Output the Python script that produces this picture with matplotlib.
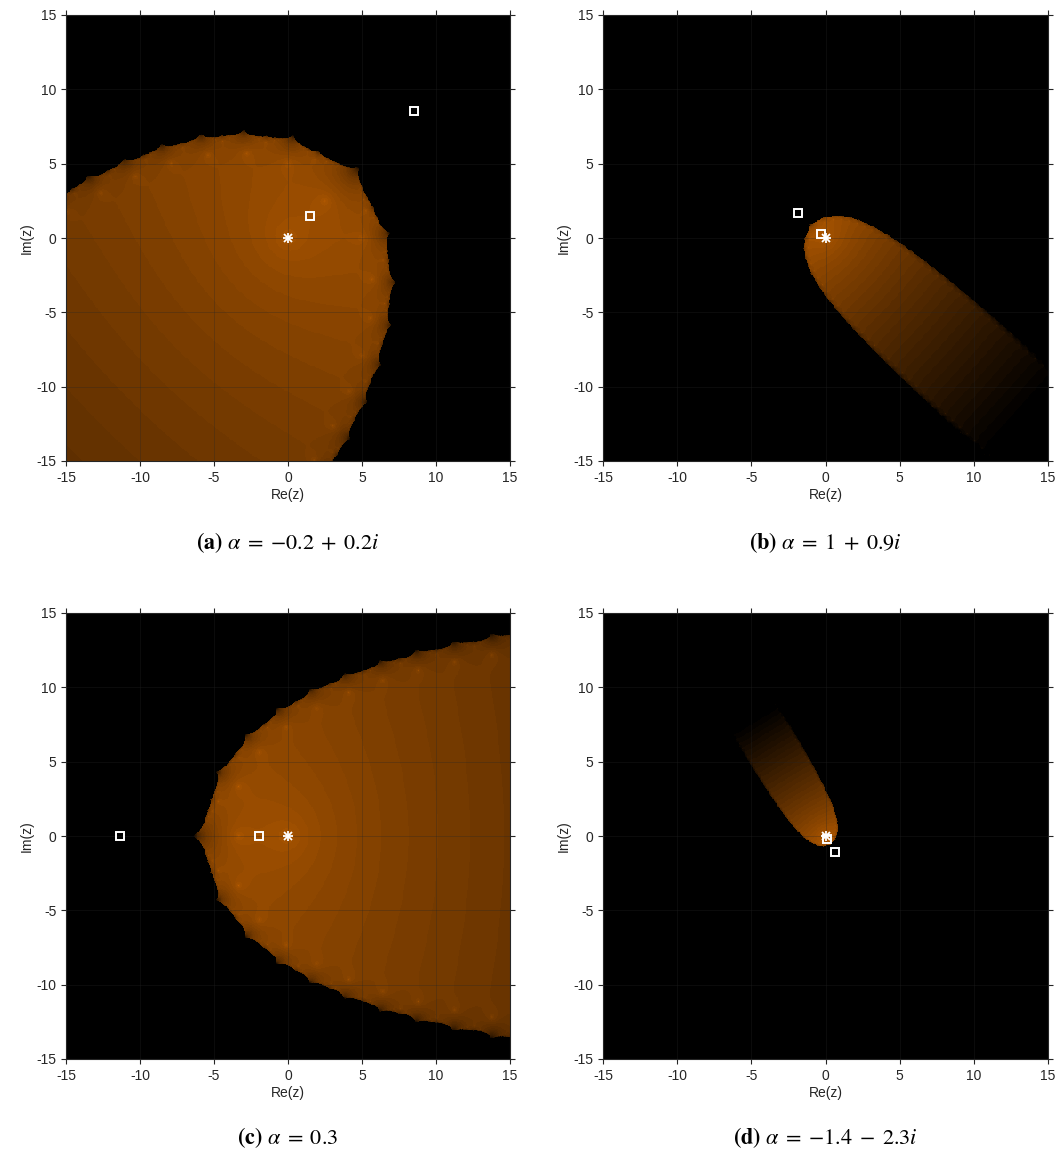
import numpy as np
import matplotlib
matplotlib.use("Agg")
import matplotlib.pyplot as plt

# ---- data ----
alphas = [complex(-0.2, 0.2), complex(1.0, 0.9), complex(0.3, 0.0), complex(-1.4, -2.3)]
panel_letters = ["a", "b", "c", "d"]
alpha_texts = [r"{-}0.2 \;+\; 0.2i", r"1 \;+\; 0.9i", r"0.3", r"{-}1.4 \;-\; 2.3i"]
ticks = [-15, -10, -5, 0, 5, 10, 15]
fixed_point = [0.0, 0.0]
max_iter = 40
tol = 1e-3
npts = 500

plt.rcParams["mathtext.fontset"] = "stix"
plt.rcParams["axes.unicode_minus"] = False

W, H = 1059, 1151
fig = plt.figure(figsize=(W / 100, H / 100), dpi=100)

axes_px = [(66, 15, 510, 461), (603, 15, 1048, 461), (66, 613, 510, 1059), (603, 613, 1048, 1059)]

xs = np.linspace(-15, 15, npts)
X, Y = np.meshgrid(xs, xs)
Z0 = X + 1j * Y

base = np.array([1.0, 0.5, 0.0])

for idx, a in enumerate(alphas):
    z = Z0.copy()
    k_conv = np.full(z.shape, -1, dtype=int)
    active = np.ones(z.shape, dtype=bool)
    with np.errstate(all="ignore"):
        for k in range(1, max_iter + 1):
            zz = z[active]
            zz = zz * (1 + a * zz) / (2 + a * zz)
            z[active] = zz
            conv = active & (np.abs(z) < tol)
            k_conv[conv] = k
            active &= ~conv
            active &= np.isfinite(z) & (np.abs(z) < 1e6)
    bright = np.where(k_conv > 0, np.clip((max_iter - k_conv) / max_iter, 0, 1), 0.0)
    img = bright[..., None] * base[None, None, :] * 0.83
    img = np.clip(img, 0, 1)

    l, t, r, b = axes_px[idx]
    ax = fig.add_axes([l / W, 1 - b / H, (r - l) / W, (b - t) / H])
    ax.imshow(img, extent=[-15, 15, -15, 15], origin="lower", interpolation="nearest", aspect="auto")
    ax.set_xlim(-15, 15)
    ax.set_ylim(-15, 15)
    ax.set_xticks(ticks)
    ax.set_yticks(ticks)
    ax.grid(True, color=(0.15, 0.15, 0.15), alpha=0.35, lw=0.6)
    ax.set_axisbelow(False)
    ax.tick_params(direction="out", length=3.5, width=0.8, colors="#262626",
                   labelsize=10, top=True, right=True, labelcolor="#262626")
    for lab in ax.get_xticklabels() + ax.get_yticklabels():
        lab.set_family("Liberation Sans")
    for s in ax.spines.values():
        s.set_color("#262626")
        s.set_linewidth(0.8)
    ax.set_xlabel("Re(z)", fontsize=10, family="Liberation Sans", color="#262626", labelpad=2)
    ax.set_ylabel("Im(z)", fontsize=10, family="Liberation Sans", color="#262626", labelpad=2)

    crit = [(-2 + np.sqrt(2)) / a, (-2 - np.sqrt(2)) / a]
    ax.plot([c.real for c in crit], [c.imag for c in crit], ls="none", marker="s",
            ms=5.2, mfc="none", mec="white", mew=1.4, zorder=5)
    ax.plot([fixed_point[0]], [fixed_point[1]], ls="none", marker="+", ms=7, mec="white", mew=1.3, zorder=6)
    ax.plot([fixed_point[0]], [fixed_point[1]], ls="none", marker="x", ms=5.5, mec="white", mew=1.3, zorder=6)

    cx = (l + r) / 2 / W
    cy = 1 - ((543 if idx < 2 else 1138)) / H
    fig.text(cx, cy, r"$\mathbf{(" + panel_letters[idx] + r")}\ \alpha \;=\; " + alpha_texts[idx] + r"$",
             ha="center", va="center", fontsize=16, color="black")

fig.savefig("out.png", dpi=100)
